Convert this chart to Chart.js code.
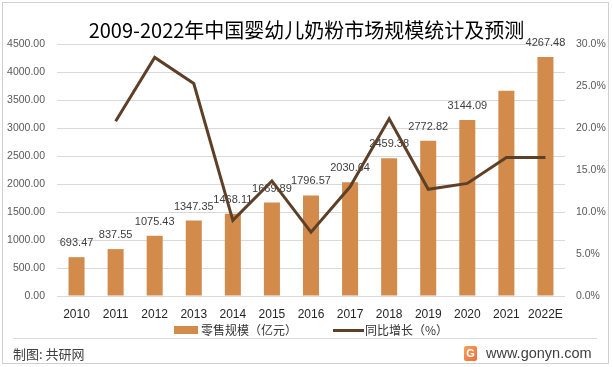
<!DOCTYPE html>
<html>
<head>
<meta charset="utf-8">
<script src="https://cdn.jsdelivr.net/npm/chart.js@4.4.1/dist/chart.umd.min.js"></script>
<style>
  html, body { margin: 0; padding: 0; background: #fff; }
  #wrap { position: relative; width: 613px; height: 367px; overflow: hidden; }
  #chart { position: absolute; left: 0; top: 0; }
  .frame { position: absolute; left: 2px; top: 2px; width: 605px; height: 360px; border: 1px solid #d0d0d0; }
  .sep { position: absolute; left: 13px; top: 338px; width: 584px; height: 1px; background: #d9d9d9; }
  .txt { position: absolute; white-space: nowrap; font-family: "Noto Sans CJK SC", "Noto Sans", sans-serif; }
  #title { left: 0; width: 613px; text-align: center; top: 16px; font-size: 20px; line-height: 28px; color: #000; font-weight: 400; }
  .legend { top: 322px; font-size: 12px; line-height: 16px; color: #333; }
  .swatch { position: absolute; }
  #credit { left: 13px; top: 344px; font-size: 13px; line-height: 20px; color: #404040; }
  #site { left: 486px; top: 342px; font-family: "Liberation Sans", Arial, sans-serif; font-size: 14.5px; line-height: 22px; color: #404040; }
  #logo { position: absolute; left: 464px; top: 346px; width: 13px; height: 15px; border-radius: 2px;
          background: linear-gradient(135deg, #f7a35a, #ef6a3a); color: #fff; font: bold 11px "Liberation Sans", sans-serif;
          text-align: center; line-height: 15px; }
</style>
</head>
<body>
<div id="wrap">
  <canvas id="chart" width="613" height="367"></canvas>
  <div class="frame"></div>
  <div id="title" class="txt">2009-2022年中国婴幼儿奶粉市场规模统计及预测</div>
  <div class="swatch" style="left:174px;top:326px;width:24px;height:8px;background:#D38B4C;"></div>
  <div class="txt legend" style="left:201px;">零售规模（亿元）</div>
  <div class="swatch" style="left:333px;top:329px;width:31px;height:3px;background:#5E4029;"></div>
  <div class="txt legend" style="left:365px;">同比增长（%）</div>
  <div class="sep"></div>
  <div id="credit" class="txt">制图: 共研网</div>
  <div id="logo">G</div>
  <div id="site" class="txt">www.gonyn.com</div>
</div>
<script>
  // 零售规模（亿元）与同比增长（%），2021 年柱子在原图中无数据标签
  const years = ['2010', '2011', '2012', '2013', '2014', '2015', '2016',
    '2017', '2018', '2019', '2020', '2021', '2022E'];
  const retail = [693.47, 837.55, 1075.43, 1347.35, 1468.11, 1669.89, 1796.57,
    2030.64, 2459.38, 2772.82, 3144.09, 3663, 4267.48];
  const growth = [null, 20.8, 28.4, 25.3, 9.0, 13.7, 7.6, 13.0, 21.1, 12.7, 13.4, 16.5, 16.5];
  const unlabeled = ['2021'];

  const BAR = '#D38B4C';
  const LINE = '#5E4029';
  const GRID = '#d9d9d9';
  const TICK = '#595959';
  const FONT = '"Liberation Sans", Arial, sans-serif';

  // 柱顶数值标签，画在折线之前
  const barLabels = {
    id: 'barLabels',
    afterDatasetDraw(chart, args) {
      if (args.index !== 0) return;
      const ctx = chart.ctx;
      ctx.save();
      ctx.font = '11px ' + FONT;
      ctx.fillStyle = '#404040';
      ctx.textAlign = 'center';
      ctx.textBaseline = 'middle';
      args.meta.data.forEach((bar, i) => {
        if (unlabeled.includes(years[i])) return;
        ctx.fillText(retail[i].toFixed(2), bar.x, bar.y - 14);
      });
      ctx.restore();
    },
  };

  new Chart(document.getElementById('chart'), {
    type: 'bar',
    data: {
      labels: years,
      datasets: [
        {
          type: 'bar',
          data: retail,
          backgroundColor: BAR,
          yAxisID: 'y',
          barPercentage: 0.41,
          categoryPercentage: 1,
          order: 1,
        },
        {
          type: 'line',
          data: growth,
          borderColor: LINE,
          borderWidth: 3,
          pointRadius: 0,
          tension: 0,
          yAxisID: 'y1',
          order: 0,
        },
      ],
    },
    plugins: [barLabels],
    options: {
      responsive: false,
      animation: false,
      layout: { padding: { top: 44, bottom: 41, left: 0, right: 0 } },
      plugins: { legend: { display: false }, tooltip: { enabled: false } },
      scales: {
        x: {
          grid: { display: false, drawTicks: false },
          border: { display: false },
          ticks: { color: '#262626', font: { family: FONT, size: 12 }, padding: 11, maxRotation: 0 },
          afterFit: (s) => { s.height = 30; },
        },
        y: {
          min: 0,
          max: 4500,
          grid: { color: GRID, drawTicks: false },
          border: { display: false },
          ticks: {
            stepSize: 500,
            padding: 12,
            color: TICK,
            font: { family: FONT, size: 10.5 },
            callback: (v) => v.toFixed(2),
          },
          afterFit: (s) => { s.width = 57; },
        },
        y1: {
          position: 'right',
          min: 0,
          max: 30,
          grid: { display: false, drawTicks: false },
          border: { display: false },
          ticks: {
            stepSize: 5,
            padding: 11,
            color: TICK,
            font: { family: FONT, size: 10.5 },
            callback: (v) => v.toFixed(1) + '%',
          },
          afterFit: (s) => { s.width = 48; },
        },
      },
    },
  });
</script>
</body>
</html>
